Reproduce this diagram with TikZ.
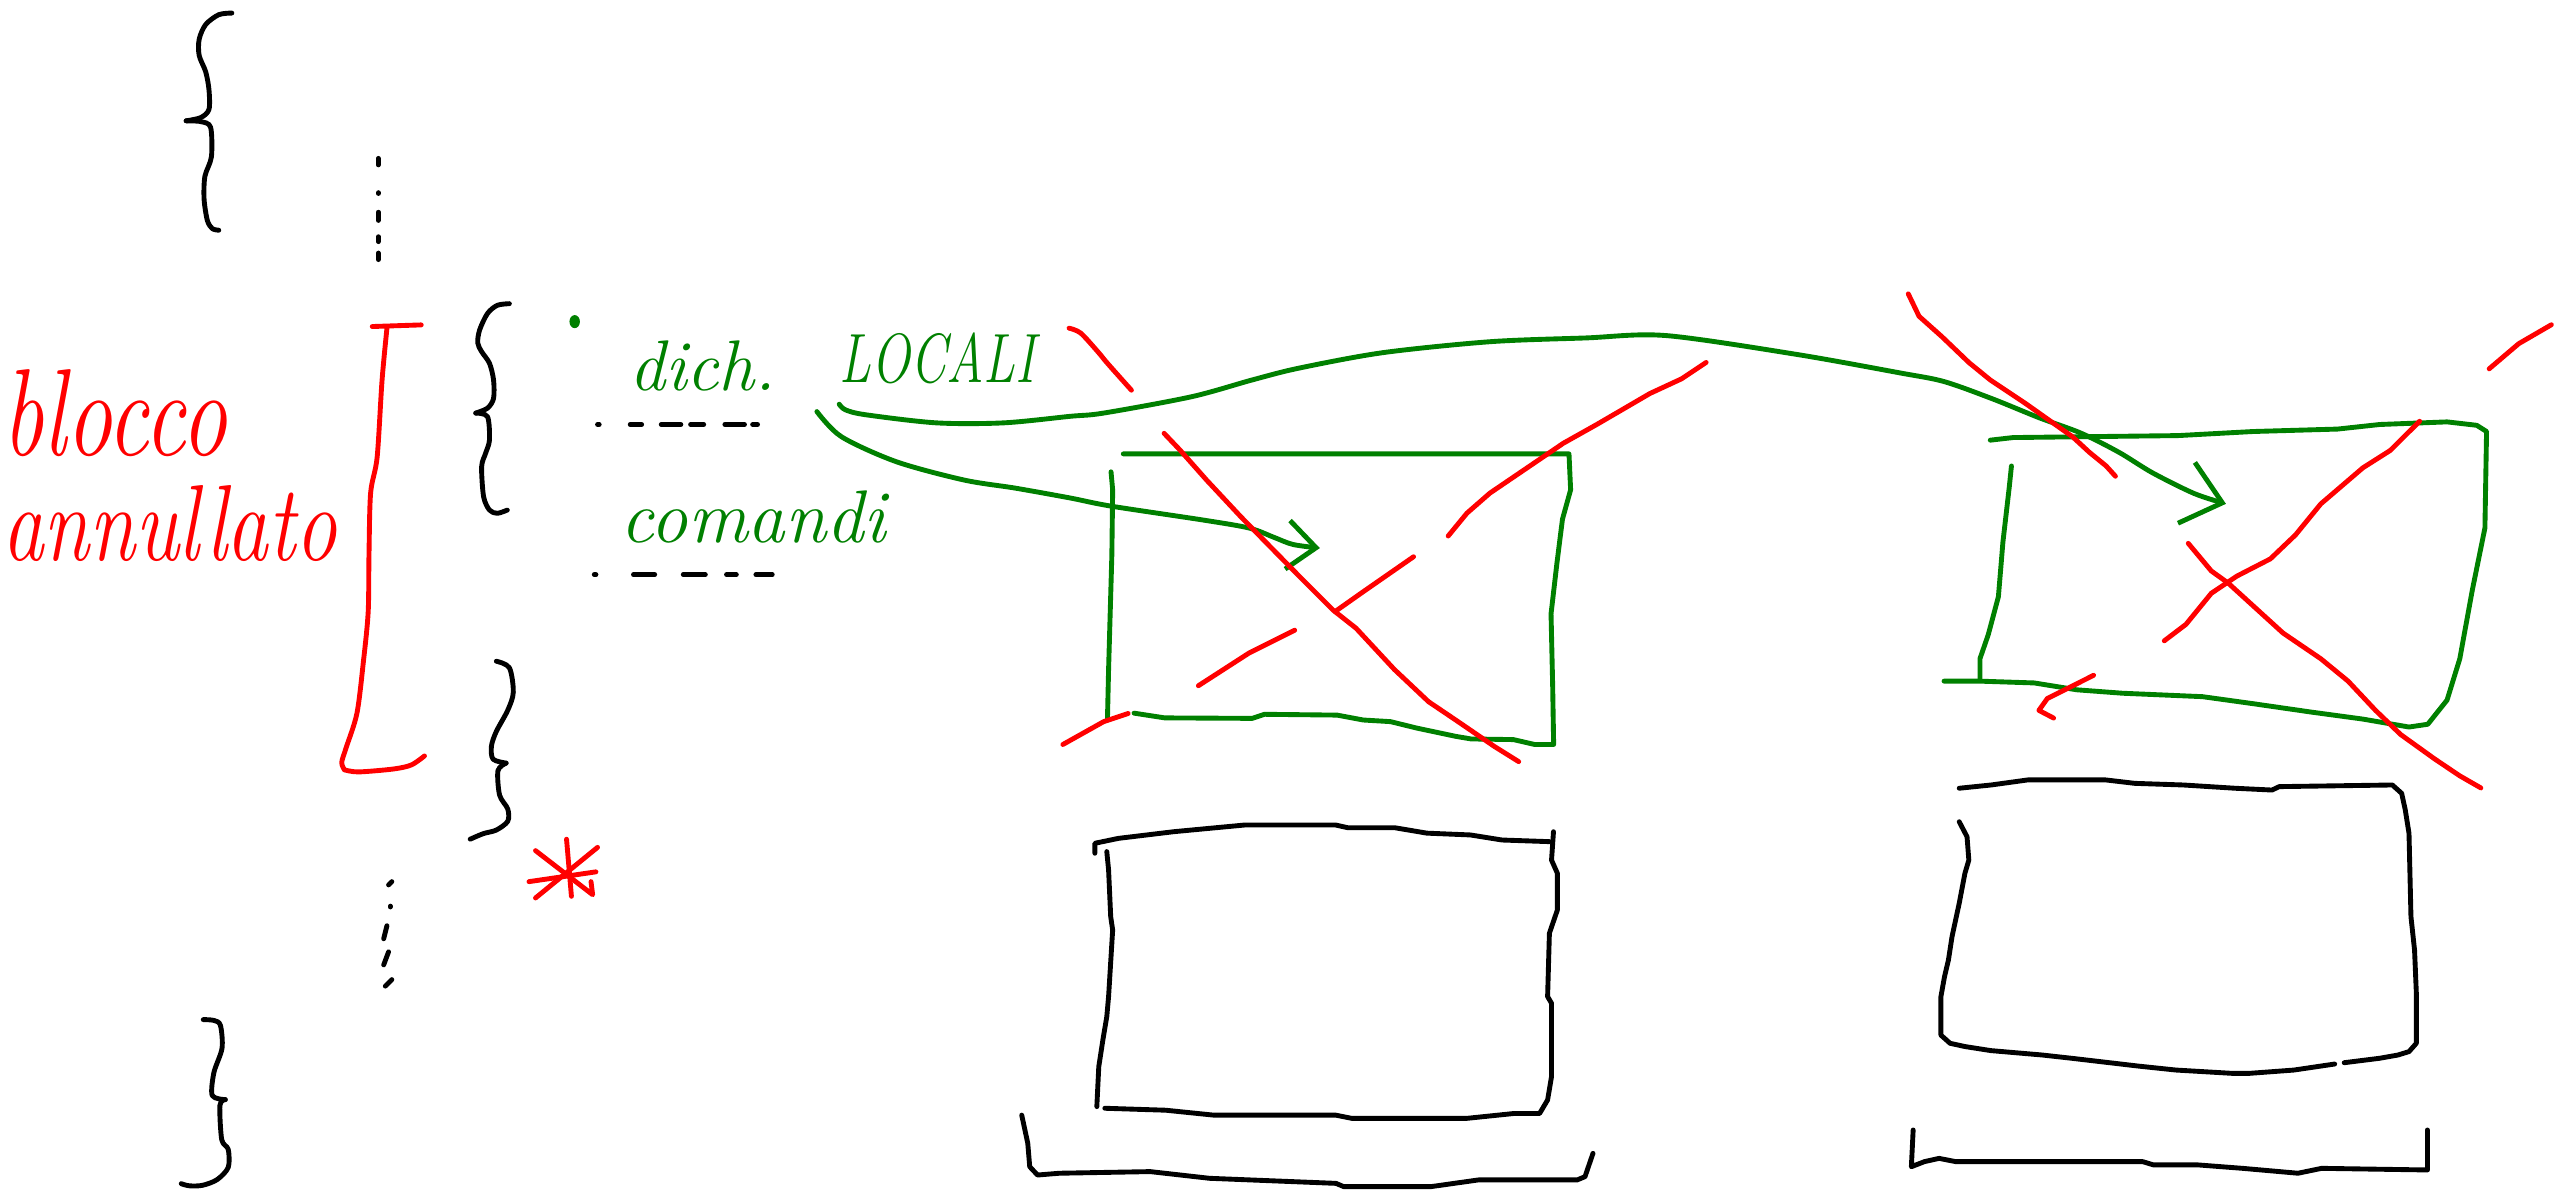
\documentclass[tikz,border=0pt]{standalone}
\usepackage{graphicx}
\usetikzlibrary{arrows.meta}

\definecolor{inkred}{HTML}{FF0000}
\definecolor{inkgreen}{HTML}{008000}

\begin{document}
\begin{tikzpicture}[
    x=0.02cm, y=0.02cm,
    ink/.style={draw=black, line width=1.7pt, line cap=round, line join=round},
    redink/.style={ink, draw=inkred},
    greenink/.style={ink, draw=inkgreen},
    redword/.style={text=inkred, inner sep=0pt, anchor=base west,
        font=\fontsize{#1}{#1}\selectfont\itshape},
    greenword/.style={text=inkgreen, inner sep=0pt, anchor=base west,
        font=\fontsize{#1}{#1}\selectfont\itshape},
    bigbarb/.style={-{Straight Barb[length=13pt, width=22pt]}},
    smallbarb/.style={-{Straight Barb[length=10pt, width=17pt]}},
]
\useasboundingbox (0,0) rectangle (1568,-730);

% === Left column: outer braces and dots ===
\draw[ink] plot[smooth] coordinates {(142,-8) (134,-9) (126,-15) (122,-24)
    (122,-34) (126,-44) (128,-55) (128,-67) (123,-72) (114,-74)};
\draw[ink] plot[smooth] coordinates {(114,-74) (123,-74.5) (129,-78)
    (129.5,-96) (125.5,-108) (125,-122) (127,-135) (130,-140) (134,-141)};
\foreach \ya/\yb in {97/101, 118/118.5, 130/135, 145/148, 155/159}
    \draw[ink] (231.7,-\ya) -- (231.7,-\yb);

\foreach \xa/\ya/\xb/\yb in {240/540/238/542, 239/555/239/555.5,
    237/567/235/575, 238/583/235/591, 240/600/236/604}
    \draw[ink] (\xa,-\ya) -- (\xb,-\yb);

\draw[ink] plot[smooth] coordinates {(124.5,-624.5) (131,-625) (135,-628)
    (136,-642) (131,-657) (130,-671) (138,-673.5)};
\draw[ink] plot[smooth] coordinates {(138,-673.5) (134.7,-677) (135.8,-698)
    (139.8,-704) (139.8,-715) (133,-722.5) (124,-726) (116,-726.3) (111,-725)};

% === Red note: cancelled block ===
\node[redword=32] (blocco) at (1,-279) {\scalebox{1}[1.35]{blocco}};
\node[redword=29] (annullato) at (1,-343) {\scalebox{1}[1.3]{annullato}};
\draw[redink] (228,-200) -- (258,-199);
\draw[redink] plot[smooth] coordinates {(237,-201) (234,-233) (231,-280)
    (227,-302) (226,-340) (225.5,-375) (222.5,-406) (218.6,-437) (212,-458)
    (209.3,-467) (211,-471.5)};
\draw[redink] plot[smooth] coordinates {(211,-471.5) (219.5,-472.8)
    (241,-471) (252,-468.5) (260,-463)};

% === Inner block ===
\draw[ink] plot[smooth] coordinates {(312,-186) (304.6,-187) (298.6,-192)
    (293.8,-202) (292.6,-210) (295,-215.4) (299.8,-222.5) (302.3,-232.7)
    (302.3,-244) (298.6,-250) (291.4,-253)};
\draw[ink] plot[smooth] coordinates {(291.4,-253) (298.6,-255.2)
    (299.8,-269.5) (297.4,-277.7) (295,-285.8) (296.2,-304.2) (299.8,-312.4)
    (304.6,-314.4) (310.7,-312.4)};
\fill[inkgreen] (352,-197) ellipse (3.2 and 4);

\node[greenword=25] (dich) at (385,-239) {dich.};
\node[greenword=18] (locali) at (514,-234) {\scalebox{1}[1.35]{LOCALI}};
\node[greenword=26] (comandi) at (380,-332) {comandi};

\foreach \xa/\xb in {366/367, 386/393, 405/417, 423/431, 444/456, 461/464}
    \draw[ink] (\xa,-260) -- (\xb,-260);
\foreach \xa/\xb in {364/365, 388/401, 418.5/432, 445/451, 463/473}
    \draw[ink] (\xa,-352) -- (\xb,-352);

\draw[ink] plot[smooth] coordinates {(304,-405) (312,-409) (314.4,-424)
    (311,-435) (304,-448) (301,-457) (302,-465) (310,-467.4)};
\draw[ink] plot[smooth] coordinates {(310,-467.4) (305,-472) (306,-487)
    (311,-495.5) (311,-503) (304,-508.4) (296,-510.6) (288,-514)};

% Red asterisk
\draw[redink] (347,-514) -- (350,-549);
\draw[redink] (328,-521) -- (363,-548) -- (362,-540);
\draw[redink] (366,-519) -- (328,-550);
\draw[redink] (324,-540) -- (365,-534);

% === Frame 1 (green, crossed out) ===
\draw[greenink] (688,-278) -- (961,-278) -- (962,-300) -- (957,-318)
    -- (953.6,-345) -- (950,-376) -- (951,-420) -- (951.6,-456)
    -- (940,-456) -- (927,-453) -- (901,-452.6) -- (891.6,-451)
    -- (868,-446) -- (851.7,-442) -- (835,-441) -- (819,-438)
    -- (774.5,-437.5) -- (767,-440) -- (713.4,-439.7) -- (694.6,-436.8);
\draw[greenink] (680.5,-289) -- (681.5,-300) -- (681,-340) -- (679,-410)
    -- (678.3,-441);

% === Frame 2 (green, crossed out) ===
\draw[greenink] (1219,-269.6) -- (1233,-268) -- (1334,-266.8) -- (1380,-264.3)
    -- (1431.8,-262.8) -- (1457.6,-260) -- (1498.8,-258.4) -- (1517,-260.5)
    -- (1523,-264.3) -- (1522,-323.4) -- (1514.3,-361.3) -- (1506.6,-403.5)
    -- (1498.8,-428.8) -- (1487,-443.6) -- (1475.5,-445.3) -- (1447,-440.4)
    -- (1416,-436.2) -- (1380,-431) -- (1349,-426.7) -- (1300,-424.6)
    -- (1272,-422.5) -- (1246,-418.3) -- (1212.7,-417.2) -- (1190.7,-417.2);
\draw[greenink] (1232,-285.4) -- (1230.7,-298) -- (1226.8,-331.8)
    -- (1224,-365.5) -- (1217.8,-388.7) -- (1212.7,-403.5) -- (1212.7,-416.2);

% === Green arrows: local declarations ===
\coordinate (tail1) at ([yshift=-7pt]locali.south west);
\coordinate (tip1) at (1363.4,-308.6);
\draw[greenink, bigbarb] plot[smooth] coordinates {(tail1) (517.8,-251)
    (530,-254) (573.5,-259) (614.7,-259) (655.4,-255) (676,-253) (729.8,-243)
    (767,-232.7) (795.5,-225.5) (847,-216) (912.6,-209.3) (971,-207)
    (1020,-205.5) (1100,-217) (1163.7,-228.4) (1190.7,-233.7) (1220.4,-244.3)
    (1248.8,-255.8) (1274.6,-265.3) (1297.8,-277) (1318.4,-289.6)
    (1344,-302.3) (tip1)};

\coordinate (tail2) at ([shift={(14pt,-7pt)}]dich.south east);
\coordinate (tip2) at (808.4,-335.7);
\draw[greenink, smallbarb] plot[smooth] coordinates {(tail2) (515.4,-267.5)
    (549,-282.8) (590.4,-294) (622,-299) (655.4,-305) (680.5,-310)
    (736.8,-318.5) (765,-323.4) (780,-329) (792,-333.5) (tip2)};

% === Red crosses ===
\draw[redink] plot[smooth] coordinates {(654.8,-201) (661.9,-204)
    (672.4,-215.4) (678.3,-222.5) (693,-239)};
\draw[redink] (713,-265.4) -- (722.7,-275.6) -- (739,-294) -- (760,-316.5)
    -- (786,-343) -- (797.8,-355) -- (816.4,-373.6) -- (830.6,-384.8)
    -- (854,-410) -- (875,-429.8) -- (891.6,-441) -- (915,-457) -- (930.2,-466.5);
\draw[redink] (1045,-222) -- (1030,-232) -- (1010.6,-241) -- (978,-260)
    -- (957.5,-271.5) -- (912.6,-302) -- (898.5,-314.3) -- (887,-328.3);
\draw[redink] (865.8,-341) -- (835,-362.4) -- (817.7,-374.6);
\draw[redink] (793,-386) -- (765,-400) -- (734,-420);
\draw[redink] (691,-437) -- (676,-442) -- (651,-456);

\draw[redink] (1168.8,-180) -- (1175.4,-193.7) -- (1189.5,-206.3)
    -- (1206,-222.1) -- (1219,-232.7) -- (1241,-247.4) -- (1269.4,-267.5)
    -- (1279.7,-277) -- (1290,-285.4) -- (1295.7,-291.7);
\draw[redink] (1340.3,-332.8) -- (1354.4,-349.7) -- (1364.7,-357.1)
    -- (1398.3,-387.7) -- (1421.5,-403.5) -- (1438.2,-417.2) -- (1455,-435.1)
    -- (1470.4,-449.9) -- (1491,-464.7) -- (1506.6,-475.2) -- (1519.5,-482.6);
\draw[redink] (1482,-258) -- (1464,-275.9) -- (1447.3,-286.5) -- (1421.5,-308.6)
    -- (1406,-327.6) -- (1390.6,-342.3) -- (1370,-352.9) -- (1354.4,-363.4)
    -- (1338.9,-382.4) -- (1325.6,-392.5);
\draw[redink] (1282.3,-413.6) -- (1266.9,-421.4) -- (1254,-427.8)
    -- (1248.8,-435.1) -- (1257.8,-439.8);
\draw[redink] (1562.7,-198.9) -- (1542.7,-210.5) -- (1524.6,-225.9);

% === Frame 1 (black) ===
\draw[ink] (670.6,-522.6) -- (670.6,-516.5) -- (685,-513.5) -- (719,-509.4)
    -- (762.5,-505.3) -- (818,-505.3) -- (825.6,-507) -- (854.4,-507)
    -- (874,-510.3) -- (900.6,-511.4) -- (920,-514.5) -- (949,-515.5);
\draw[ink] (951.5,-509.4) -- (950.3,-526.8) -- (953.9,-534.9) -- (953.9,-557.3)
    -- (949,-571.6) -- (947.9,-610.4) -- (950.3,-614.5) -- (950.3,-659.4)
    -- (947.9,-673.7) -- (943,-682) -- (927.3,-682) -- (898.3,-685)
    -- (828,-685) -- (818,-683) -- (743.3,-683) -- (714,-680) -- (676.7,-678.8);
\draw[ink] (677.9,-521.6) -- (679,-532.8) -- (680.3,-561.5) -- (681.5,-569.6)
    -- (679,-610.4) -- (677.9,-622.7) -- (675.5,-637) -- (673,-653.3)
    -- (671.8,-677.8);
\draw[ink] (625.8,-683) -- (629.5,-700.2) -- (630.7,-714.6) -- (635.5,-719.7)
    -- (648.8,-718.6) -- (704.5,-717.6) -- (740.8,-721.7) -- (818.3,-724.8)
    -- (823,-726.8) -- (876.5,-726.8) -- (905.5,-722.7) -- (966,-722.7)
    -- (970.8,-720.7) -- (975.7,-706.4);

% === Frame 2 (black) ===
\draw[ink] (1200,-482.8) -- (1219.5,-480.8) -- (1242,-477.7) -- (1289.7,-477.7)
    -- (1307.6,-479.8) -- (1337.3,-480.8) -- (1369,-482.8) -- (1391.6,-483.9)
    -- (1396,-481.8) -- (1465.3,-480.8) -- (1471,-485.9) -- (1473.2,-496)
    -- (1475.5,-510.4) -- (1476.7,-561.5) -- (1478.9,-581.9) -- (1480,-608.4)
    -- (1480,-639) -- (1475.5,-644.1) -- (1468.7,-646.2) -- (1457.4,-648.2)
    -- (1435.8,-650.9);
\draw[ink] (1430,-651.7) -- (1405,-655.4) -- (1378,-657.4) -- (1366.8,-657.4)
    -- (1332.8,-655.4) -- (1310,-653) -- (1269,-648.2) -- (1251,-646.2)
    -- (1219.5,-643.5) -- (1203.5,-641) -- (1194.4,-639) -- (1188.8,-634)
    -- (1188.8,-610.4) -- (1191,-598.2) -- (1193.4,-588) -- (1195.6,-573.7)
    -- (1200,-553.3) -- (1203.5,-534.9) -- (1205.9,-526.8) -- (1204.8,-512.5)
    -- (1200,-503.3);
\draw[ink] (1171.8,-692.1) -- (1170.7,-714.6) -- (1178.7,-711.5)
    -- (1187.7,-709.5) -- (1197.9,-711.5) -- (1312.4,-711.5) -- (1319,-713.5)
    -- (1346.3,-713.5) -- (1373.6,-715.6) -- (1407.5,-718.6) -- (1422,-715.6)
    -- (1486.8,-716.6) -- (1486.8,-692.1);

\end{tikzpicture}
\end{document}
